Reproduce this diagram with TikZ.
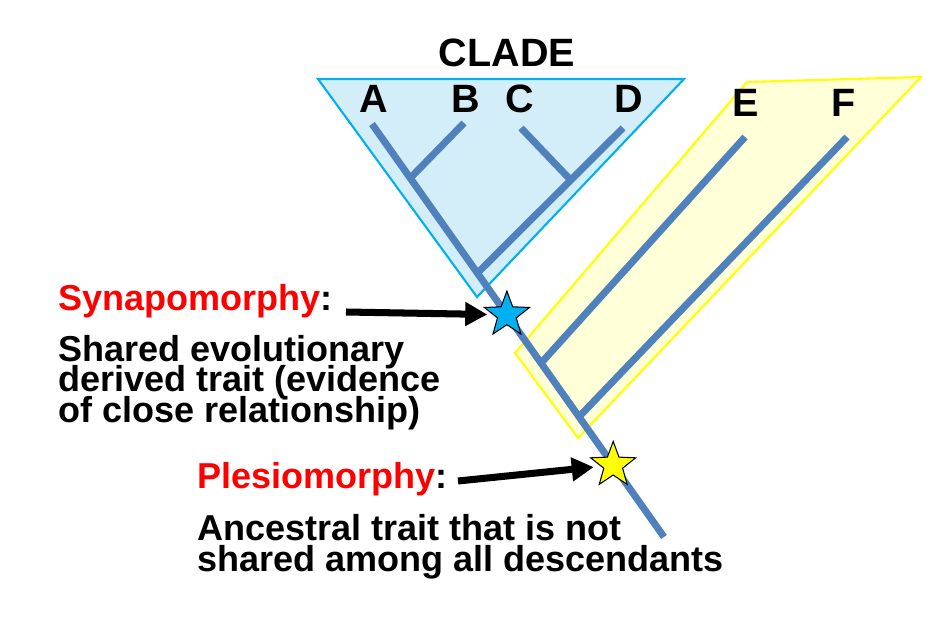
\documentclass[tikz,border=0pt]{standalone}
\usepackage{fontspec}
\setmainfont{Liberation Sans}
\usetikzlibrary{arrows.meta,shapes.geometric,calc}
\definecolor{branch}{HTML}{4F81BD}
\definecolor{cladefill}{HTML}{D3EEF9}
\definecolor{cladeedge}{HTML}{00B0F0}
\definecolor{gradefill}{HTML}{FFFFD8}
\definecolor{gradeedge}{HTML}{FFFF00}
\definecolor{synred}{HTML}{FF0000}
\newcommand\mybodyfont{\fontsize{20.5}{17.1}\selectfont\bfseries\lineskiplimit-20pt\relax}
\begin{document}
\begin{tikzpicture}[x=0.02cm,y=-0.02cm,
  branchline/.style={draw=branch,line width=4pt},
  tiplabel/.style={font=\fontsize{22.5}{22.5}\selectfont\bfseries,anchor=base,inner sep=0pt},
  bodytext/.style={font=\mybodyfont,anchor=base west,align=left,inner sep=0pt},
  pointer/.style={line width=4pt,-{Triangle[length=12.5pt,width=13pt]}},
  markstar/.style={star,star points=5,star point ratio=2.4,draw=black,line width=0.6pt,minimum size=27pt,inner sep=0pt}]
\useasboundingbox (0,0) rectangle (940,628);

% clade triangle and grade parallelogram
\draw[cladeedge,fill=cladefill,line width=1.2pt] (318,79) -- (684,79) -- (477,297) -- cycle;
\draw[gradeedge,fill=gradefill,line width=1.2pt] (515,353) -- (747,82) -- (921,77) -- (578,438) -- cycle;

% tree coordinates
\coordinate (Atip) at (372,124);
\coordinate (root) at (664,537);
\coordinate (Btip) at (464,123);
\coordinate (Ctip) at (521,128);
\coordinate (Dtip) at (623,128);
\coordinate (Etip) at (745,137);
\coordinate (Ftip) at (847,137);
\coordinate (ab) at ($(Atip)!0.131!(root)$);
\coordinate (abcd) at ($(Atip)!0.361!(root)$);
\coordinate (cd) at ($(Dtip)!0.359!(abcd)$);
\coordinate (ebase) at ($(Atip)!0.579!(root)$);
\coordinate (fbase) at ($(Atip)!0.709!(root)$);

% branches
\draw[branchline] (Atip) -- (root);
\draw[branchline] (Btip) -- (ab);
\draw[branchline] (Dtip) -- (abcd);
\draw[branchline] (Ctip) -- (cd);
\draw[branchline] (Etip) -- (ebase);
\draw[branchline] (Ftip) -- (fbase);

% labels
\node[tiplabel] (clade) at (507,67) {CLADE};
\node[tiplabel] (la) at (374,113) {A};
\node[tiplabel] (lb) at (466,113) {B};
\node[tiplabel] (lc) at (520,113) {C};
\node[tiplabel] (ld) at (629,113) {D};
\node[tiplabel] (le) at (746,117) {E};
\node[tiplabel] (lf) at (844,117) {F};

% stars
\node[markstar,fill=cladeedge] (synstar) at ($(Atip)!0.462!(root)$) {};
\node[markstar,fill=gradeedge] (plesstar) at ($(Atip)!0.826!(root)$) {};

% texts (multi-line nodes: base = last line's baseline)
\node[bodytext,text=synred] (syn) at (58,311) {Synapomorphy\textcolor{black}{:}};
\node[bodytext] (syndef) at (58,422) {Shared evolutionary\\derived trait (evidence\\of close relationship)};
\node[bodytext] (ples) at (197,488) {\textcolor{synred}{Plesiomorphy}:};
\node[bodytext] (plesdef) at (197,571) {Ancestral trait that is not\\shared among all descendants};

% pointers
\coordinate (synfrom) at (346,312);
\coordinate (plesfrom) at (458,481);
\draw[pointer,shorten >=3pt] (synfrom) -- (synstar);
\draw[pointer,shorten >=4pt] (plesfrom) -- (plesstar);
\end{tikzpicture}
\end{document}
